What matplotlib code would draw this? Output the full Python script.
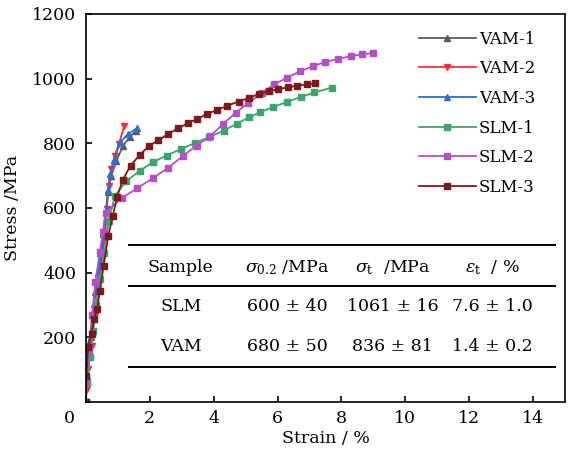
import numpy as np
import matplotlib
matplotlib.use("Agg")
import matplotlib.pyplot as plt
from matplotlib.transforms import ScaledTranslation

plt.rcParams['font.family'] = ['DejaVu Serif']
plt.rcParams['mathtext.fontset'] = 'dejavuserif'
plt.rcParams['font.size'] = 12

# stress-strain data (strain in %, stress in MPa)
vam1_x = [0, 0.03, 0.08, 0.15, 0.22, 0.30, 0.38, 0.46, 0.54, 0.62, 0.70, 0.80, 0.96, 1.17, 1.38, 1.57]
vam1_y = [0, 60, 140, 200, 270, 340, 400, 460, 520, 590, 650, 700, 746, 793, 819, 839]

vam2_x = [0, 0.03, 0.07, 0.18, 0.28, 0.39, 0.49, 0.60, 0.65, 0.72, 0.80, 0.91, 1.04, 1.20]
vam2_y = [0, 40, 102, 174, 267, 349, 432, 509, 597, 669, 721, 762, 798, 853]

vam3_x = [0, 0.04, 0.10, 0.18, 0.26, 0.36, 0.44, 0.51, 0.60, 0.66, 0.70, 0.77, 0.89, 1.07, 1.33, 1.61]
vam3_y = [0, 81, 185, 226, 303, 370, 422, 473, 525, 595, 654, 705, 749, 803, 829, 847]

slm1_x = [0, 0.04, 0.12, 0.22, 0.33, 0.45, 0.58, 0.72, 0.91, 1.27, 1.69, 2.09, 2.53, 2.97, 3.42,
          3.87, 4.31, 4.72, 5.11, 5.45, 5.87, 6.30, 6.72, 7.15, 7.70]
slm1_y = [0, 60, 140, 220, 300, 380, 460, 560, 638, 683, 715, 741, 762, 782, 801,
          819, 839, 860, 880, 896, 912, 928, 943, 957, 972]

slm2_x = [0, 0.02, 0.10, 0.20, 0.30, 0.44, 0.54, 0.62, 1.12, 1.61, 2.11, 2.58, 3.03, 3.47, 3.89,
          4.29, 4.70, 5.09, 5.50, 5.90, 6.30, 6.70, 7.10, 7.50, 7.90, 8.30, 8.65, 9.00]
slm2_y = [0, 61, 160, 270, 370, 463, 525, 585, 630, 661, 693, 724, 760, 793, 821,
          859, 895, 925, 955, 982, 1003, 1022, 1038, 1051, 1061, 1069, 1075, 1079]

slm3_x = [0, 0.02, 0.07, 0.18, 0.26, 0.36, 0.44, 0.56, 0.70, 0.84, 0.98, 1.15, 1.40, 1.69, 1.97,
          2.27, 2.58, 2.89, 3.19, 3.49, 3.80, 4.12, 4.43, 4.78, 5.11, 5.42, 5.72, 6.02, 6.32,
          6.62, 6.92, 7.18]
slm3_y = [0, 81, 169, 210, 257, 288, 344, 422, 512, 574, 634, 685, 731, 764, 791,
          809, 829, 846, 862, 875, 891, 903, 916, 929, 940, 953, 960, 967, 973,
          978, 982, 985]

# summary table
tab_header = ['Sample', r'$\sigma_{0.2}$ /MPa', r'$\sigma_{\rm t}$  /MPa', r'$\varepsilon_{\rm t}$  / %']
tab_slm = ['SLM', '600 ± 40', '1061 ± 16', '7.6 ± 1.0']
tab_vam = ['VAM', '680 ± 50', '836 ± 81', '1.4 ± 0.2']

fig = plt.figure(figsize=(5.68, 4.54), dpi=100)
ax = fig.add_axes([0.151, 0.1145, 0.844, 0.855])

series = [
    (vam1_x, vam1_y, 'VAM-1', '#5a5a5a', '^'),
    (vam2_x, vam2_y, 'VAM-2', '#f0323c', 'v'),
    (vam3_x, vam3_y, 'VAM-3', '#2d6fd2', '^'),
    (slm1_x, slm1_y, 'SLM-1', '#3aa66a', 's'),
    (slm2_x, slm2_y, 'SLM-2', '#b44fc8', 's'),
    (slm3_x, slm3_y, 'SLM-3', '#7b1a1a', 's'),
]
for x, y, lab, c, m in series:
    ax.plot(x, y, color=c, marker=m, markersize=4, linewidth=1.3, label=lab)

ax.set_xlim(0, 15)
ax.set_ylim(0, 1200)
ax.set_xticks(np.arange(0, 15, 2))
ax.set_yticks(np.arange(200, 1201, 200))
ax.tick_params(direction='in', length=4, width=1.2, top=False, right=False, labelsize=12.5)
ax.tick_params(axis='y', pad=7)
ax.tick_params(axis='x', pad=6)
for s in ax.spines.values():
    s.set_linewidth(1.2)

# shift the corner "0" label to the left
lbl0 = ax.get_xticklabels()[0]
lbl0.set_transform(lbl0.get_transform() + ScaledTranslation(-0.16, 0, fig.dpi_scale_trans))

ax.set_xlabel('Strain / %', fontsize=12.5, labelpad=2)
ax.set_ylabel('Stress /MPa', fontsize=12.5, labelpad=8)

ax.legend(loc='upper left', bbox_to_anchor=(0.695, 0.957), frameon=False, fontsize=12,
          handlelength=3.4, handletextpad=0.2, labelspacing=0.76, borderpad=0, borderaxespad=0)

# table drawn inside the axes
x0, x1 = 0.0898, 0.979
for yy in [0.405, 0.299, 0.090]:
    ax.plot([x0, x1], [yy, yy], color='black', linewidth=1.4, transform=ax.transAxes)
col_x = [0.198, 0.420, 0.640, 0.848]
for row, yy in zip([tab_header, tab_slm, tab_vam], [0.347, 0.245, 0.142]):
    for txt, xx in zip(row, col_x):
        ax.text(xx, yy, txt, transform=ax.transAxes, ha='center', va='center', fontsize=12.5)

fig.savefig('out.png', dpi=100)
